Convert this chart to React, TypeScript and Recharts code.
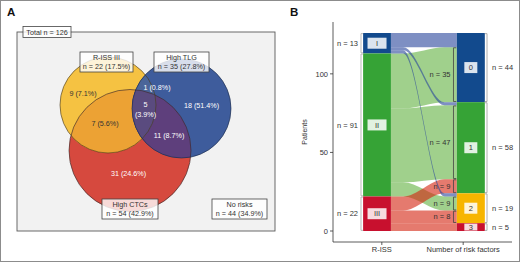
import React from "react";
import {
  Area,
  ComposedChart,
  ReferenceArea,
  Scatter,
  XAxis,
  YAxis,
} from "recharts";

const FONT = "'Liberation Sans', Arial, Helvetica, sans-serif";
const INK = "#333333";

/* ---------- A: overlap of the three risk factors ---------- */
const SET_NAMES = ["R-ISS III", "High TLG", "High CTCs"];
const SET_COUNTS = [22, 35, 54];
const SET_PCTS = ["17.5%", "27.8%", "42.9%"];
const TOTAL_N = 126;
const NO_RISK_N = 44;
const NO_RISK_PCT = "34.9%";
// R-ISS only, R-ISS+TLG, TLG only, R-ISS+CTCs, all three, TLG+CTCs, CTCs only
const REGION_COUNTS = [9, 1, 18, 7, 5, 11, 31];
const REGION_PCTS = ["7.1%", "0.8%", "51.4%", "5.6%", "3.9%", "8.7%", "24.6%"];

/* ---------- B: R-ISS stage -> number of risk factors ---------- */
const RISS_STAGES = ["I", "II", "III"];
const RISK_FACTORS = ["0", "1", "2", "3"];
// rows: R-ISS stage, columns: number of risk factors
const FLOW_COUNTS = [
  [9, 2, 2, 0],
  [35, 47, 9, 0],
  [0, 9, 8, 5],
];
const LABELED_FLOWS = [
  [1, 0],
  [1, 1],
  [2, 1],
  [1, 2],
  [2, 2],
];
const AXIS_NAMES = ["R-ISS", "Number of risk factors"];
const PATIENT_TICKS = [0, 50, 100];

/* ---------- layout / styles ---------- */
// venn panel works in its own pixel units, y pointing down
const VENN_W = 290;
const VENN_H = 262;
const FRAME = { x1: 17, x2: 275, y1: 32, y2: 231 };
const CIRCLE_CX = [108, 181.5, 130];
const CIRCLE_CY = [105, 108.5, 150.5];
const CIRCLE_R = [48, 49.5, 61];
const SET_FILL = ["#f5c242", "#3e5c9c", "#d6493e"];
const FILL_YR = "#eca234";
const FILL_BR = "#5e3f7c";
const FILL_BY = "#4a6599";
const FILL_BYR = "#5a4b7f";
const SET_BOX_X = [106.5, 181.5, 130];
const SET_BOX_Y = [62, 62, 209];
const SET_BOX_W = [53, 55, 56];
const NO_RISK_BOX = { x: 239.5, y: 209, w: 55 };
const TOTAL_BOX = { x: 47, y: 32, w: 48 };
const REGION_X = [83, 157, 201.5, 105, 145.5, 169, 128.5];
const REGION_Y = [93, 87, 105, 123, 109, 135, 173];
const REGION_DARK = [true, false, false, true, false, false, false];
const SPLIT_REGION = 4;

const B_W = 230;
const X_DOMAIN = [0.4, 2.6];
const Y_DOMAIN = [-7, 133];
const LEFT_BAR = [0.77, 1.112];
const RIGHT_BAR = [1.922, 2.266];
const KNOT = 0.15;
const STAGE_FILL = ["#124a8d", "#36a336", "#c8102e"];
const RISK_FILL = ["#124a8d", "#36a336", "#f7b500", "#c8102e"];
const FLOW_FILL = ["#28449b", "#61b13f", "#d4210d"];

/* ---------- derived ---------- */
const sum = (a: number[]) => a.reduce((s, v) => s + v, 0);
const STAGE_N = FLOW_COUNTS.map(sum);
const TOTAL = sum(STAGE_N);
const RISK_N = RISK_FACTORS.map((_, j) => sum(FLOW_COUNTS.map((r) => r[j])));
const stageTop = STAGE_N.map((_, i) => TOTAL - sum(STAGE_N.slice(0, i)));
const riskTop = RISK_N.map((_, j) => TOTAL - sum(RISK_N.slice(0, j)));

const flowLeft = (i: number, j: number) => {
  const top = stageTop[i] - sum(FLOW_COUNTS[i].slice(0, j));
  return [top - FLOW_COUNTS[i][j], top];
};
const flowRight = (i: number, j: number) => {
  const top = riskTop[j] - sum(FLOW_COUNTS.slice(0, i).map((r) => r[j]));
  return [top - FLOW_COUNTS[i][j], top];
};

const FLOW_X = [LEFT_BAR[1], LEFT_BAR[1] + KNOT, RIGHT_BAR[0] - KNOT, RIGHT_BAR[0]];
const flowRows = FLOW_X.map((x, k) => {
  const row: Record<string, unknown> = { x };
  FLOW_COUNTS.forEach((r, i) =>
    r.forEach((n, j) => {
      if (n > 0) row[`f${i}${j}`] = k < 2 ? flowLeft(i, j) : flowRight(i, j);
    })
  );
  return row;
});

const regionRows = REGION_COUNTS.map((n, k) => ({
  x: REGION_X[k],
  y: REGION_Y[k],
  lines: k === SPLIT_REGION ? [`${n}`, `(${REGION_PCTS[k]})`] : [`${n} (${REGION_PCTS[k]})`],
  dark: REGION_DARK[k],
}));

const boxRows = [
  ...SET_NAMES.map((name, i) => ({
    x: SET_BOX_X[i],
    y: SET_BOX_Y[i],
    w: SET_BOX_W[i],
    lines: [name, `n = ${SET_COUNTS[i]} (${SET_PCTS[i]})`],
  })),
  { ...NO_RISK_BOX, lines: ["No risks", `n = ${NO_RISK_N} (${NO_RISK_PCT})`] },
  { ...TOTAL_BOX, lines: [`Total n = ${TOTAL_N}`] },
];

/* ---------- shapes ---------- */
function Disc(p: any) {
  const { x, y, width, height, fill, stroke, clipId, clipBy = [] } = p;
  const e = { cx: x + width / 2, cy: y + height / 2, rx: width / 2, ry: height / 2 };
  let node = (
    <ellipse {...e} fill={fill} stroke={stroke || "none"} strokeWidth={0.8} strokeOpacity={0.8} />
  );
  clipBy.forEach((c: string) => {
    node = <g clipPath={`url(#${c})`}>{node}</g>;
  });
  return (
    <g>
      {clipId && (
        <defs>
          <clipPath id={clipId}>
            <ellipse {...e} />
          </clipPath>
        </defs>
      )}
      {node}
    </g>
  );
}

function RegionText(p: any) {
  const { cx, cy, payload } = p;
  const n = payload.lines.length;
  return (
    <text textAnchor="middle" fontSize={7.2} fontFamily={FONT} fill={payload.dark ? INK : "#ffffff"}>
      {payload.lines.map((s: string, k: number) => (
        <tspan key={k} x={cx} y={cy + (k - (n - 1) / 2) * 10} dy="0.35em">
          {s}
        </tspan>
      ))}
    </text>
  );
}

function LabelBox(p: any) {
  const { cx, cy, payload } = p;
  const lh = 9;
  const h = payload.lines.length * lh + 2;
  const top = cy - h / 2;
  return (
    <g>
      <rect x={cx - payload.w / 2} y={top} width={payload.w} height={h} fill="#fff" fillOpacity={0.8} stroke="#444" strokeWidth={0.8} />
      {payload.lines.map((s: string, k: number) => (
        <text key={k} x={cx} y={top + 1 + lh * k + lh / 2} dy="0.35em" textAnchor="middle" fontSize={7.2} fontFamily={FONT} fill={INK}>
          {s}
        </text>
      ))}
    </g>
  );
}

function Stratum(p: any) {
  const { x, y, width, height, color, label, boxW } = p;
  const cx = x + width / 2;
  const cy = y + height / 2;
  const bh = Math.min(11, height - 1);
  return (
    <g>
      <rect x={x} y={y} width={width} height={height} fill={color} />
      <rect x={cx - boxW / 2} y={cy - bh / 2} width={boxW} height={bh} fill="#fff" fillOpacity={0.85} />
      <text x={cx} y={cy} dy="0.36em" textAnchor="middle" fontSize={7.5} fontFamily={FONT} fill={INK}>
        {label}
      </text>
    </g>
  );
}

function Bracket(p: any) {
  const { x, y, width, height, side, label, color } = p;
  const l = x;
  const r = x + width;
  const b = y + height;
  const d =
    side === "left"
      ? `M${r},${y}H${l}V${b}H${r}`
      : `M${l},${y}H${r}V${b}H${l}`;
  return (
    <g>
      <path d={d} fill="none" stroke={color} strokeWidth={0.8} />
      {label && (
        <text
          x={side === "left" ? l - 3 : r + 5}
          y={y + height / 2}
          dy="0.35em"
          textAnchor={side === "left" ? "end" : "start"}
          fontSize={7.5}
          fontFamily={FONT}
          fill={INK}
        >
          {label}
        </text>
      )}
    </g>
  );
}

function circleBounds(i: number) {
  return {
    x1: CIRCLE_CX[i] - CIRCLE_R[i],
    x2: CIRCLE_CX[i] + CIRCLE_R[i],
    y1: CIRCLE_CY[i] - CIRCLE_R[i],
    y2: CIRCLE_CY[i] + CIRCLE_R[i],
  };
}

function VennPanel() {
  // draw order: CTCs, R-ISS, its overlap, TLG, TLG overlaps, outlines
  const layers = [
    { i: 2, fill: SET_FILL[2], clipId: "venn-c2" },
    { i: 0, fill: SET_FILL[0], clipId: "venn-c0" },
    { i: 0, fill: FILL_YR, clipBy: ["venn-c2"] },
    { i: 1, fill: SET_FILL[1], clipId: "venn-c1" },
    { i: 1, fill: FILL_BR, clipBy: ["venn-c2"] },
    { i: 1, fill: FILL_BY, clipBy: ["venn-c0"] },
    { i: 1, fill: FILL_BYR, clipBy: ["venn-c2", "venn-c0"] },
    { i: 2, fill: "none", stroke: "#3a2a2a" },
    { i: 0, fill: "none", stroke: "#4a3a1a" },
    { i: 1, fill: "none", stroke: "#1a2a4a" },
  ];
  return (
    <ComposedChart width={VENN_W} height={VENN_H} margin={{ top: 0, right: 0, bottom: 0, left: 0 }}>
      <XAxis type="number" dataKey="x" domain={[0, VENN_W]} hide />
      <YAxis type="number" dataKey="y" domain={[0, VENN_H]} reversed hide />
      <ReferenceArea
        {...FRAME}
        ifOverflow="visible"
        shape={(p: any) => (
          <rect x={p.x} y={p.y} width={p.width} height={p.height} fill="#f2f2f2" stroke="#5a5a5a" strokeWidth={0.9} />
        )}
      />
      {layers.map((l, k) => (
        <ReferenceArea
          key={k}
          {...circleBounds(l.i)}
          ifOverflow="visible"
          shape={(p: any) => <Disc {...p} fill={l.fill} stroke={l.stroke} clipId={l.clipId} clipBy={l.clipBy} />}
        />
      ))}
      <Scatter data={regionRows} shape={(p: any) => <RegionText {...p} />} isAnimationActive={false} />
      <Scatter data={boxRows} shape={(p: any) => <LabelBox {...p} />} isAnimationActive={false} />
    </ComposedChart>
  );
}

function AlluvialPanel() {
  const labeled = new Set(LABELED_FLOWS.map(([i, j]) => `${i}-${j}`));
  return (
    <ComposedChart width={B_W} height={262} data={flowRows} margin={{ top: 22, right: 8, bottom: 0, left: 0 }}>
      <XAxis
        type="number"
        dataKey="x"
        domain={X_DOMAIN}
        allowDataOverflow
        ticks={[1, 2]}
        interval={0}
        tickFormatter={(v: number) => AXIS_NAMES[v - 1]}
        tickSize={3}
        height={20}
        axisLine={{ stroke: INK, strokeWidth: 0.8 }}
        tickLine={{ stroke: INK, strokeWidth: 0.8 }}
        tick={{ fontSize: 7.5, fill: INK, fontFamily: FONT }}
      />
      <YAxis
        type="number"
        domain={Y_DOMAIN}
        allowDataOverflow
        ticks={PATIENT_TICKS}
        interval={0}
        tickSize={3}
        width={43}
        axisLine={{ stroke: INK, strokeWidth: 0.8 }}
        tickLine={{ stroke: INK, strokeWidth: 0.8 }}
        tick={{ fontSize: 7.5, fill: INK, fontFamily: FONT }}
        label={{
          content: (props: any) => {
            const vb = props.viewBox;
            const lx = vb.x + 15;
            const ly = vb.y + vb.height / 2;
            return (
              <text x={lx} y={ly} transform={`rotate(-90 ${lx} ${ly})`} textAnchor="middle" dy="0.35em" fontSize={7} fontFamily={FONT} fill={INK}>
                Patients
              </text>
            );
          },
        }}
      />
      {[1, 2, 0].flatMap((i) =>
        FLOW_COUNTS[i].map((n, j) =>
          n > 0 ? (
            <Area
              key={`f${i}${j}`}
              dataKey={`f${i}${j}`}
              type="monotoneX"
              stroke="none"
              fill={FLOW_FILL[i]}
              fillOpacity={0.6}
              dot={false}
              activeDot={false}
              isAnimationActive={false}
            />
          ) : null
        )
      )}
      {RISS_STAGES.map((s, i) => (
        <ReferenceArea
          key={`s${i}`}
          x1={LEFT_BAR[0]}
          x2={LEFT_BAR[1]}
          y1={stageTop[i] - STAGE_N[i]}
          y2={stageTop[i]}
          ifOverflow="visible"
          shape={(p: any) => <Stratum {...p} color={STAGE_FILL[i]} label={s} boxW={19} />}
        />
      ))}
      {RISK_FACTORS.map((s, j) => (
        <ReferenceArea
          key={`r${j}`}
          x1={RIGHT_BAR[0]}
          x2={RIGHT_BAR[1]}
          y1={riskTop[j] - RISK_N[j]}
          y2={riskTop[j]}
          ifOverflow="visible"
          shape={(p: any) => <Stratum {...p} color={RISK_FILL[j]} label={s} boxW={13} />}
        />
      ))}
      {RISS_STAGES.map((_, i) => (
        <ReferenceArea
          key={`bl${i}`}
          x1={0.744}
          x2={0.77}
          y1={stageTop[i] - STAGE_N[i] + 0.4}
          y2={stageTop[i] - 0.4}
          ifOverflow="visible"
          shape={(p: any) => <Bracket {...p} side="left" color="#aaaaaa" label={`n = ${STAGE_N[i]}`} />}
        />
      ))}
      {RISK_FACTORS.map((_, j) => (
        <ReferenceArea
          key={`br${j}`}
          x1={2.266}
          x2={2.293}
          y1={riskTop[j] - RISK_N[j] + 0.4}
          y2={riskTop[j] - 0.4}
          ifOverflow="visible"
          shape={(p: any) => <Bracket {...p} side="right" color="#999999" label={`n = ${RISK_N[j]}`} />}
        />
      ))}
      {FLOW_COUNTS.flatMap((r, i) =>
        r.map((n, j) => {
          if (!labeled.has(`${i}-${j}`)) return null;
          const [lo, hi] = flowRight(i, j);
          return (
            <ReferenceArea
              key={`bf${i}${j}`}
              x1={1.881}
              x2={1.915}
              y1={lo + 0.4}
              y2={hi - 0.4}
              ifOverflow="visible"
              shape={(p: any) => <Bracket {...p} side="left" color="#444444" label={`n = ${n}`} />}
            />
          );
        })
      )}
    </ComposedChart>
  );
}

export default function App() {
  const letter: React.CSSProperties = {
    position: "absolute",
    top: 6,
    fontFamily: FONT,
    fontWeight: 700,
    fontSize: 11.5,
    color: "#111",
    lineHeight: "12px",
  };
  return (
    <div style={{ position: "absolute", left: 0, top: 0, width: 520, height: 262, background: "#fff", fontFamily: FONT }}>
      <div style={{ position: "absolute", left: 0, top: 0 }}>
        <VennPanel />
      </div>
      <div style={{ position: "absolute", left: 290, top: 0 }}>
        <AlluvialPanel />
      </div>
      <div style={{ ...letter, left: 7 }}>A</div>
      <div style={{ ...letter, left: 290 }}>B</div>
      <div
        style={{
          position: "absolute",
          inset: 0,
          border: "1px solid #8c8c8c",
          boxSizing: "border-box",
          pointerEvents: "none",
        }}
      />
    </div>
  );
}
